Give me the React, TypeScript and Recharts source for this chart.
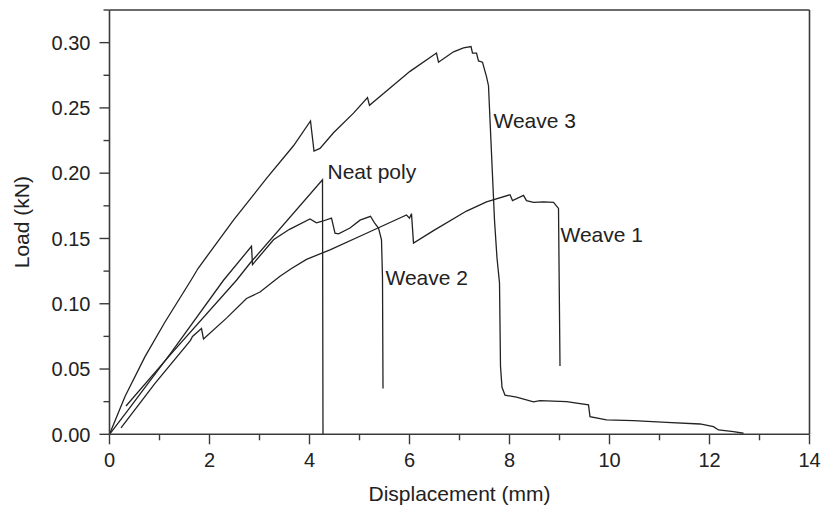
import { LineChart, Line, XAxis, YAxis, ReferenceLine, ReferenceDot } from "recharts";

// [displacement mm, load kN]
const weave3: [number, number][] = [
  [0, 0], [0.31, 0.029], [0.71, 0.0595], [1.11, 0.086], [1.63, 0.118], [1.77, 0.127],
  [2.48, 0.164], [3.14, 0.196], [3.68, 0.221], [4.02, 0.24], [4.09, 0.217], [4.21, 0.219],
  [4.48, 0.231], [4.88, 0.246], [5.16, 0.258], [5.2, 0.252], [5.54, 0.263], [6.01, 0.278],
  [6.54, 0.292], [6.58, 0.285], [6.88, 0.293], [7.08, 0.296], [7.23, 0.297], [7.26, 0.292],
  [7.34, 0.292], [7.38, 0.286], [7.46, 0.285], [7.54, 0.274], [7.58, 0.267], [7.61, 0.241],
  [7.7, 0.164], [7.75, 0.135], [7.8, 0.116], [7.82, 0.052], [7.85, 0.036], [7.91, 0.03],
  [8.14, 0.0284], [8.48, 0.0248], [8.61, 0.0258], [9.14, 0.025], [9.58, 0.0225], [9.61, 0.0135],
  [9.94, 0.011], [10.48, 0.0104], [11.14, 0.0092], [11.81, 0.0079], [12.08, 0.0058],
  [12.18, 0.0033], [12.48, 0.002], [12.68, 0.0008],
];

const neatPoly: [number, number][] = [
  [0.33, 0.0217], [1.24, 0.062], [2.54, 0.118], [2.81, 0.131], [4.26, 0.195], [4.27, 0],
];

const weave2: [number, number][] = [
  [0, 0], [0.34, 0.017], [1.24, 0.063], [2.28, 0.118], [2.84, 0.144], [2.86, 0.13],
  [3.28, 0.149], [3.6, 0.157], [4.01, 0.165], [4.14, 0.162], [4.24, 0.163], [4.44, 0.1656],
  [4.51, 0.154], [4.58, 0.1536], [4.81, 0.158], [5.01, 0.164], [5.22, 0.167], [5.3, 0.162],
  [5.38, 0.158], [5.44, 0.149], [5.46, 0.12], [5.47, 0.035],
];

const weave1: [number, number][] = [
  [0.23, 0.005], [0.91, 0.039], [1.62, 0.072], [1.66, 0.075], [1.84, 0.081], [1.88, 0.073],
  [2.34, 0.089], [2.74, 0.104], [3.01, 0.109], [3.41, 0.121], [3.64, 0.127], [3.94, 0.134],
  [4.41, 0.1413], [5.14, 0.154], [5.94, 0.168], [6.0, 0.1656], [6.04, 0.169], [6.08, 0.1465],
  [6.48, 0.156], [7.14, 0.171], [7.54, 0.178], [8.01, 0.1835], [8.06, 0.179], [8.28, 0.183],
  [8.34, 0.179], [8.48, 0.1776], [8.68, 0.178], [8.88, 0.1776], [8.98, 0.173], [9.01, 0.0524],
];

const xTicks = [0, 1, 2, 3, 4, 5, 6, 7, 8, 9, 10, 11, 12, 13, 14];
const yTicks = [0, 0.025, 0.05, 0.075, 0.1, 0.125, 0.15, 0.175, 0.2, 0.225, 0.25, 0.275, 0.3, 0.325];

const toRows = (pts: [number, number][]) => pts.map(([x, y]) => ({ x, y }));

const font = "'Liberation Sans', Arial, Helvetica, sans-serif";
const ink = "#222";
const axisInk = "#3a3a3a";

const XTick = (props: any) => {
  const { x, y, payload } = props;
  const major = payload.value % 2 === 0;
  return (
    <g>
      <line x1={x} x2={x} y1={y} y2={y + (major ? 10 : 6)} stroke={axisInk} strokeWidth={1.4} />
      {major && (
        <text x={x} y={y + 33} textAnchor="middle" fontSize={20} fontFamily={font} fill={ink}>
          {payload.value}
        </text>
      )}
    </g>
  );
};

const YTick = (props: any) => {
  const { x, y, payload } = props;
  const major = Math.round(payload.value * 1000) % 50 === 0;
  return (
    <g>
      <line x1={x} x2={x - (major ? 10 : 6)} y1={y} y2={y} stroke={axisInk} strokeWidth={1.4} />
      {major && (
        <text x={x - 19} y={y} dy="0.36em" textAnchor="end" fontSize={20} fontFamily={font} fill={ink}>
          {payload.value.toFixed(2)}
        </text>
      )}
    </g>
  );
};

const tag = (value: string, offset: number) => ({
  value,
  position: "right" as const,
  offset,
  fontSize: 21,
  fontFamily: font,
  fill: ink,
});

export default function App() {
  return (
    <div style={{ width: 821, height: 509 }}>
      <style>{`html, body { margin: 0; padding: 0; overflow: hidden; }`}</style>
      <LineChart width={821} height={509} margin={{ top: 10, right: 11.5, left: 0, bottom: 0 }}>
        <XAxis
          type="number"
          dataKey="x"
          domain={[0, 14]}
          ticks={xTicks}
          interval={0}
          tick={XTick}
          tickLine={false}
          tickSize={0}
          tickMargin={0}
          height={74.7}
          stroke={axisInk}
          strokeWidth={1.6}
          allowDataOverflow
          label={{
            value: "Displacement (mm)",
            position: "insideBottom",
            offset: 8,
            fontSize: 21,
            fontFamily: font,
            fill: ink,
          }}
        />
        <YAxis
          type="number"
          domain={[0, 0.325]}
          ticks={yTicks}
          interval={0}
          tick={YTick}
          tickLine={false}
          tickSize={0}
          tickMargin={0}
          width={109.5}
          stroke={axisInk}
          strokeWidth={1.6}
          allowDataOverflow
          label={{
            value: "Load (kN)",
            angle: -90,
            position: "insideLeft",
            offset: 22,
            fontSize: 21,
            fontFamily: font,
            fill: ink,
            style: { textAnchor: "middle" },
          }}
        />
        <ReferenceLine x={14} stroke={axisInk} strokeWidth={1.6} />
        <ReferenceLine y={0.325} stroke={axisInk} strokeWidth={1.6} />

        <Line data={toRows(weave3)} dataKey="y" type="linear" stroke={ink} strokeWidth={1.3} dot={false} isAnimationActive={false} />
        <Line data={toRows(neatPoly)} dataKey="y" type="linear" stroke={ink} strokeWidth={1.3} dot={false} isAnimationActive={false} />
        <Line data={toRows(weave2)} dataKey="y" type="linear" stroke={ink} strokeWidth={1.3} dot={false} isAnimationActive={false} />
        <Line data={toRows(weave1)} dataKey="y" type="linear" stroke={ink} strokeWidth={1.3} dot={false} isAnimationActive={false} />

        <ReferenceDot x={4.26} y={0.201} r={0} stroke="none" label={tag("Neat poly", 5)} />
        <ReferenceDot x={7.58} y={0.24} r={0} stroke="none" label={tag("Weave 3", 5)} />
        <ReferenceDot x={9.0} y={0.1532} r={0} stroke="none" label={tag("Weave 1", 1)} />
        <ReferenceDot x={5.46} y={0.1202} r={0} stroke="none" label={tag("Weave 2", 3)} />
      </LineChart>
    </div>
  );
}
